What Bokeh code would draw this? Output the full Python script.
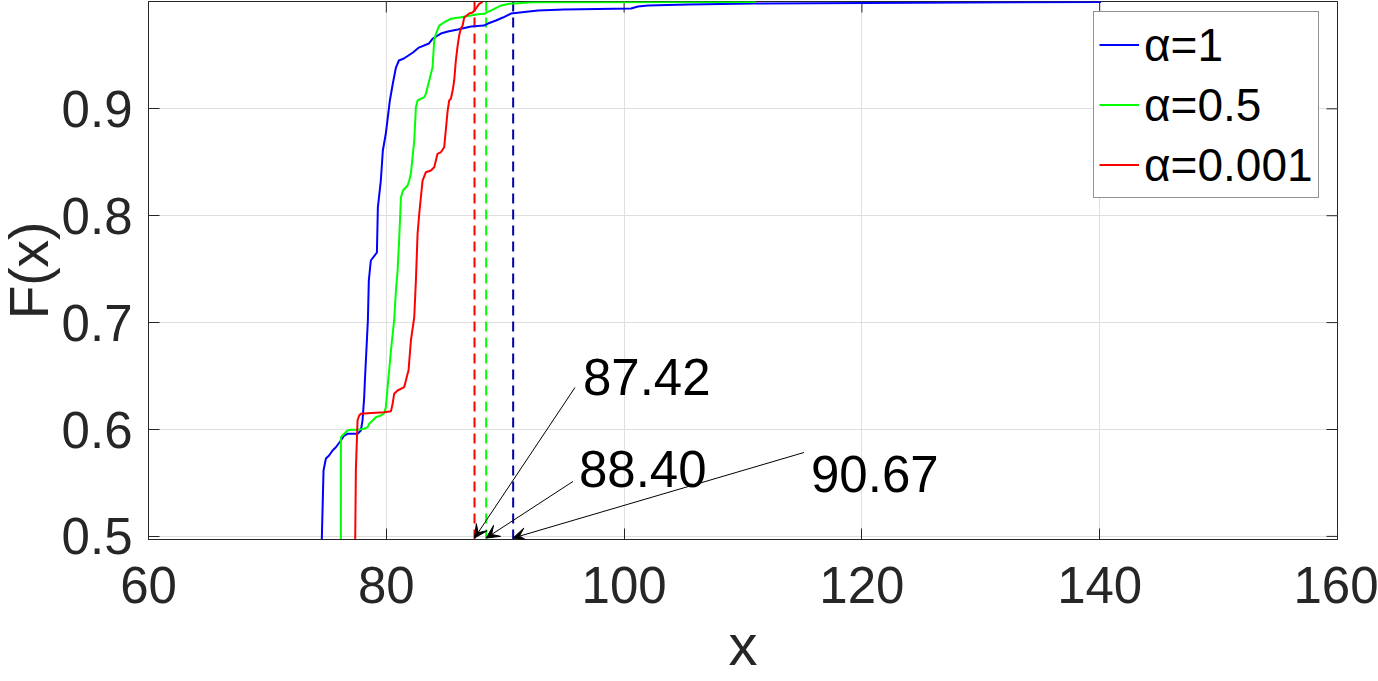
import math
from bokeh.plotting import figure
from bokeh.models import (Range1d, FixedTicker, Legend, LegendItem,
                          Arrow, VeeHead, Label, Title)
from bokeh.embed import file_html
from bokeh.resources import INLINE

# ---------------- data ----------------
x_a1 = [74.56, 74.72, 74.92, 75.19, 75.48, 75.76, 76.18, 76.46, 76.74, 77.58,
        77.86, 78.00, 78.14, 78.20, 78.45, 78.53, 78.70, 79.21, 79.29, 79.54, 79.71,
        79.96, 80.30, 80.55, 80.81, 81.06, 81.48, 82.24, 82.74, 83.58, 83.92, 84.59,
        85.18, 86.02, 87.12, 88.21, 88.55, 89.22, 89.81, 90.48, 92.75, 94.94, 100.58,
        101.17, 102.01, 105.37, 110.93, 140.12]
F_a1 = [0.490, 0.5616, 0.5729, 0.5757, 0.5804, 0.5834, 0.5897, 0.5944, 0.5960, 0.5960,
        0.5991, 0.6084, 0.6302, 0.6458, 0.7020, 0.7394, 0.7581, 0.7656, 0.8077, 0.8329,
        0.8610, 0.8769, 0.9078, 0.9237, 0.9386, 0.9452, 0.9471, 0.9527, 0.9573, 0.9611,
        0.9658, 0.9704, 0.9723, 0.9742, 0.9770, 0.9779, 0.9798, 0.9826, 0.9854, 0.9891,
        0.9920, 0.9929, 0.9938, 0.9957, 0.9966, 0.9976, 0.9985, 1.0000]

x_a05 = [76.18, 76.18, 76.46, 76.74, 77.02, 77.58, 78.14, 78.43, 78.56, 78.85, 79.12,
         79.54, 79.82, 79.96, 80.11, 80.24, 80.39, 80.66, 80.81, 80.95, 81.08, 81.23,
         81.40, 81.79, 81.93, 82.07, 82.35, 82.49, 82.63, 83.19, 83.33, 83.61, 83.89,
         84.03, 84.17, 84.45, 84.87, 85.43, 86.27, 87.12, 87.54, 88.24, 88.52, 89.08,
         89.64, 90.34, 91.04, 92.31, 111.09]
F_a05 = [0.490, 0.5928, 0.5960, 0.5991, 0.5997, 0.5997, 0.6007, 0.6022, 0.6053, 0.6084,
         0.6115, 0.6131, 0.6152, 0.6209, 0.6396, 0.6552, 0.6739, 0.7020, 0.7300, 0.7487,
         0.7768, 0.8170, 0.8236, 0.8283, 0.8329, 0.8395, 0.8703, 0.9015, 0.9078, 0.9109,
         0.9140, 0.9265, 0.9389, 0.9639, 0.9702, 0.9779, 0.9810, 0.9842, 0.9857, 0.9873,
         0.9882, 0.9889, 0.9904, 0.9935, 0.9966, 0.9982, 0.9988, 0.9997, 1.0000]

x_a0001 = [77.38, 77.44, 77.58, 77.72, 77.86, 78.43, 79.82, 80.39, 80.53, 80.66, 80.95,
           81.50, 81.65, 81.79, 81.87, 82.07, 82.35, 82.49, 82.63, 82.77, 82.91, 83.05,
           83.33, 83.75, 84.03, 84.31, 84.59, 84.87, 85.16, 85.29, 85.43, 85.58, 85.71,
           85.85, 86.00, 86.13, 86.27, 86.42, 86.55, 86.97, 87.26, 87.54, 87.81, 88.10]
F_a0001 = [0.490, 0.5616, 0.6084, 0.6131, 0.6147, 0.6152, 0.6162, 0.6171, 0.6240, 0.6334,
           0.6365, 0.6396, 0.6458, 0.6521, 0.6552, 0.6833, 0.7050, 0.7394, 0.7831, 0.8018,
           0.8173, 0.8329, 0.8407, 0.8423, 0.8454, 0.8579, 0.8594, 0.8641, 0.8984, 0.9078,
           0.9094, 0.9171, 0.9265, 0.9452, 0.9592, 0.9686, 0.9751, 0.9779, 0.9854, 0.9891,
           0.9901, 0.9938, 0.9982, 1.0000]

series_labels = ["α=1", "α=0.5", "α=0.001"]
quantiles = [87.42, 88.40, 90.67]          # red, green, blue dashed markers
quantile_texts = ["87.42", "88.40", "90.67"]
x_ticks = [60, 80, 100, 120, 140, 160]
y_ticks = [0.5, 0.6, 0.7, 0.8, 0.9]
x_title = "x"
y_title = "F(x)"

# ---------------- style / layout ----------------
FONT = "Liberation Sans"
DARK = "#262626"
GRID = "#dfdfdf"
curve_colors = ["#0000ff", "#00ff00", "#ff0000"]
dash_colors = ["#ff0000", "#00ff00", "#0000aa"]
X0, X1 = 60, 160
Y0, Y1 = 0.4971, 1.0004

p = figure(width=1378, height=681, output_backend="svg", toolbar_location=None,
           x_range=Range1d(X0, X1), y_range=Range1d(Y0, Y1),
           min_border_left=148, min_border_right=41, min_border_top=1,
           min_border_bottom=142)
p.background_fill_color = "white"
p.border_fill_color = "white"
p.outline_line_color = DARK
p.outline_line_width = 1

for ax in (p.xaxis[0], p.yaxis[0]):
    ax.major_tick_in = 11
    ax.major_tick_out = 0
    ax.minor_tick_in = 0
    ax.minor_tick_out = 0
    ax.axis_line_color = DARK
    ax.major_tick_line_color = DARK
    ax.major_label_text_font = FONT
    ax.major_label_text_font_size = "51px"
    ax.major_label_text_color = DARK
    ax.axis_label_text_font = FONT
    ax.axis_label_text_font_size = "58px"
    ax.axis_label_text_font_style = "normal"
    ax.axis_label_text_color = DARK

p.xaxis[0].ticker = FixedTicker(ticks=x_ticks)
p.yaxis[0].ticker = FixedTicker(ticks=y_ticks)
p.xaxis[0].major_label_standoff = 27
p.xaxis[0].axis_label = x_title
p.xaxis[0].axis_label_standoff = 6
p.yaxis[0].major_label_standoff = 16

# y-axis title in the left panel, pushed towards the left edge
p.add_layout(Title(text=y_title, align="center", vertical_align="top", standoff=-6,
                   text_font=FONT, text_font_size="55px", text_font_style="normal",
                   text_color=DARK), "left")

# inward ticks on the top and right edges (box style)
p.scatter(x_ticks, [Y1] * len(x_ticks), marker="dash", angle=math.pi / 2, size=22,
          line_color=DARK, line_width=1)
p.scatter([X1] * len(y_ticks), y_ticks, marker="dash", size=22,
          line_color=DARK, line_width=1)

p.xgrid.ticker = FixedTicker(ticks=x_ticks)
p.ygrid.ticker = FixedTicker(ticks=y_ticks)
p.grid.grid_line_color = GRID
p.grid.grid_line_width = 1

# dashed quantile markers
for q, c in zip(quantiles, dash_colors):
    p.line([q, q], [Y0, 1.0], line_color=c, line_width=2, line_dash="10 6")

renderers = []
for xs, fs, c in zip([x_a1, x_a05, x_a0001], [F_a1, F_a05, F_a0001], curve_colors):
    renderers.append(p.line(xs, fs, line_color=c, line_width=2))

# annotations
text_pos = [(96.54, 0.6487), (96.20, 0.5635), (115.72, 0.5588)]
tail_pos = [(95.87, 0.6393), (95.70, 0.5514), (115.13, 0.5785)]
tip_y = 0.4985
for q, t, (tx, ty), (ax_, ay_) in zip(quantiles, quantile_texts, text_pos, tail_pos):
    p.add_layout(Arrow(end=VeeHead(size=13, line_width=1, line_color="black",
                                   fill_color="black"),
                       x_start=ax_, y_start=ay_, x_end=q, y_end=tip_y,
                       line_width=1, line_color="black"))
    p.add_layout(Label(x=tx, y=ty, text=t, text_font=FONT, text_font_size="51px",
                       text_color="black", text_baseline="alphabetic", text_align="left"))

legend = Legend(items=[LegendItem(label=l, renderers=[r]) for l, r in zip(series_labels, renderers)],
                location=(945, 341), label_text_font=FONT, label_text_font_size="46px",
                label_text_color="black", glyph_width=40, glyph_height=55, label_height=55,
                spacing=5, padding=5, margin=0, label_standoff=5,
                border_line_color=DARK, border_line_width=1, background_fill_alpha=1)
p.add_layout(legend)

open("out.html", "w").write(file_html(p, INLINE))
